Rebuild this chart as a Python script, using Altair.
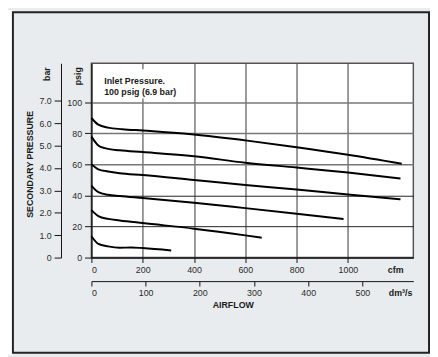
import altair as alt
import pandas as pd

# ---- data ----
c1_cfm = [0, 27, 65, 120, 200, 400, 600, 800, 1000, 1210]
c1_psig = [89.8, 85.5, 83.6, 82.6, 81.7, 79.2, 75.4, 71.0, 66.2, 60.4]
c2_cfm = [0, 27, 52, 110, 200, 400, 600, 800, 1000, 1205]
c2_psig = [77.8, 72.1, 70.4, 69.0, 67.9, 65.2, 61.0, 57.9, 54.7, 50.9]
c3_cfm = [0, 27, 65, 110, 200, 400, 600, 800, 1000, 1205]
c3_psig = [60.0, 56.8, 55.4, 54.3, 53.1, 49.9, 46.7, 43.8, 40.6, 37.5]
c4_cfm = [0, 27, 65, 110, 200, 400, 600, 800, 983]
c4_psig = [46.3, 42.1, 40.4, 39.6, 38.3, 35.3, 31.8, 28.2, 24.8]
c5_cfm = [0, 27, 65, 110, 200, 400, 600, 664]
c5_psig = [30.5, 26.7, 24.9, 23.9, 22.2, 18.6, 14.3, 12.8]
c6_cfm = [0, 27, 65, 110, 154, 200, 311]
c6_psig = [13.7, 8.8, 7.2, 6.3, 6.5, 6.1, 4.5]

psig_ticks = [0, 20, 40, 60, 80, 100]
cfm_ticks = [0, 200, 400, 600, 800, 1000]
bar_ticks = [0, 1, 2, 3, 4, 5, 6, 7]
dm3_ticks = [0, 100, 200, 300, 400, 500]

note_line1 = "Inlet Pressure."
note_line2 = "100 psig (6.9 bar)"

rows = []
for i, (xs, ys) in enumerate([(c1_cfm, c1_psig), (c2_cfm, c2_psig), (c3_cfm, c3_psig),
                              (c4_cfm, c4_psig), (c5_cfm, c5_psig), (c6_cfm, c6_psig)]):
    for x, y in zip(xs, ys):
        rows.append({"curve": f"c{i+1}", "cfm": x, "psig": y})
df = pd.DataFrame(rows)

FONT = "Liberation Sans"
W, H = 328, 198
one = pd.DataFrame({"a": [0]})

lbl = dict(labelFont=FONT, labelFontSize=9, labelColor="#2a2a2a", domainColor="#111",
           tickColor="#111", title=None, format="d")

# decorative frame and left white strip
strip = alt.Chart(one).mark_rect(fill="white").encode(
    x=alt.value(-86), x2=alt.value(-80), y=alt.value(-54), y2=alt.value(297))
frame = alt.Chart(one).mark_rect(fillOpacity=0, stroke="#222", strokeWidth=2).encode(
    x=alt.value(-80), x2=alt.value(344), y=alt.value(-52), y2=alt.value(295))

lines = alt.Chart(df).mark_line(color="black", strokeWidth=2, interpolate="monotone").encode(
    x=alt.X("cfm:Q", scale=alt.Scale(domain=[0, 1255], nice=False),
            axis=alt.Axis(orient="bottom", values=cfm_ticks, tickSize=5, labelPadding=3,
                          grid=True, gridColor="#333", gridWidth=1, **lbl)),
    y=alt.Y("psig:Q", scale=alt.Scale(domain=[0, 125], nice=False),
            axis=alt.Axis(orient="left", values=psig_ticks, tickSize=7, labelPadding=3,
                          grid=True,
                          gridColor={"condition": {"test": "datum.value >= 60", "value": "#777"},
                                     "value": "#222"},
                          gridWidth={"condition": {"test": "datum.value >= 60", "value": 1.6},
                                     "value": 1},
                          **lbl)),
    detail="curve:N",
)

dm3_axis = alt.Chart(pd.DataFrame({"dm3": dm3_ticks})).mark_point(opacity=0).encode(
    x=alt.X("dm3:Q", scale=alt.Scale(domain=[0, 594], nice=False),
            axis=alt.Axis(orient="bottom", offset=24, values=dm3_ticks, tickSize=5,
                          labelPadding=3, grid=False, **lbl)),
    y=alt.value(0),
)

lbl_bar = {k: v for k, v in lbl.items() if k != "format"}
bar_axis = alt.Chart(pd.DataFrame({"bar": bar_ticks})).mark_point(opacity=0).encode(
    y=alt.Y("bar:Q", scale=alt.Scale(domain=[0, 8.68], nice=False),
            axis=alt.Axis(orient="left", offset=31, values=bar_ticks, tickSize=7,
                          labelPadding=3, grid=False,
                          labelExpr="datum.value == 0 ? '0' : format(datum.value, '.1f')",
                          **lbl_bar)),
    x=alt.value(0),
)

note_box = alt.Chart(one).mark_rect(fill="white").encode(
    x=alt.value(7), x2=alt.value(97), y=alt.value(6), y2=alt.value(36))


def txt(s, x, y, angle=0, align="center", baseline="middle"):
    kw = dict(font=FONT, fontSize=9, fontWeight="bold", color="#1a1a1a",
              align=align, baseline=baseline, text=s)
    if angle:
        kw["angle"] = angle
    return alt.Chart(one).mark_text(**kw).encode(x=alt.value(x), y=alt.value(y))


texts = [
    txt(note_line1, 13, 18, align="left"),
    txt(note_line2, 13, 29.5, align="left"),
    txt("bar", -45, 4, angle=270, align="right"),
    txt("psig", -14, 4, angle=270, align="right"),
    txt("SECONDARY PRESSURE", -63, 103, angle=270),
    txt("cfm", 310, 211),
    txt("dm³/s", 327, 234, align="right"),
    txt("AIRFLOW", 144.5, 246),
]

chart = alt.layer(strip, frame, lines, dm3_axis, bar_axis, note_box, *texts).resolve_scale(
    x="independent", y="independent"
).properties(
    width=W, height=H,
    padding={"left": 85, "top": 53, "right": 17, "bottom": 98},
    autosize=alt.AutoSizeParams(type="none"),
    background="#e8ecef",
).configure_view(stroke="#555", strokeWidth=1.5, fill="white")

chart.save("out.html", embed_options={"renderer": "svg", "actions": False})
